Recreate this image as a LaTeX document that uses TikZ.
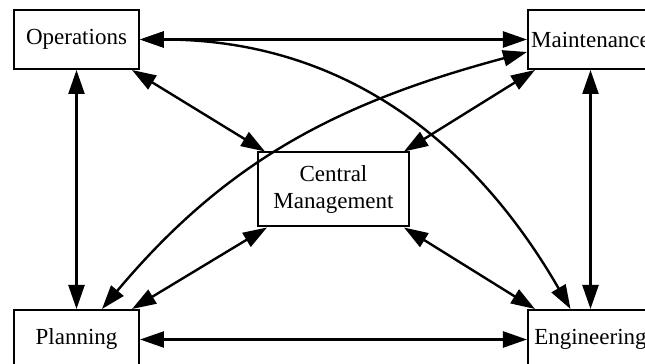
\documentclass[tikz,border=0pt]{standalone}
\usepackage{fontspec}
\setmainfont{Liberation Serif}
\usetikzlibrary{positioning, arrows.meta, calc}

\begin{document}
\begin{tikzpicture}[
        node distance=119.5pt and 193.5pt,
        unitbox/.style={rectangle, draw=black, line width=1pt, fill=white, minimum width=62.5pt, minimum height=29.5pt, align=center, inner sep=1pt, font=\fontsize{11.5}{13.5}\selectfont},
        centerbox/.style={unitbox, minimum width=75.5pt, minimum height=37pt},
        arr/.style={{Triangle[length=12pt, width=8pt]}-{Triangle[length=12pt, width=8pt]}, line width=1.2pt, black},
    ]
        % page frame (the picture is cut off at the right and at the bottom)
        \useasboundingbox (-38.25pt,19.75pt) rectangle (284.25pt,-162.25pt);
        \clip (-38.25pt,19.75pt) rectangle (284.25pt,-162.25pt);

        % Corner units
        \node[unitbox] (ops) {Operations};
        \node[unitbox, right=of ops] (maint) {Maintenance};
        \node[unitbox, below=of ops] (plan) {Planning};
        \node[unitbox, below=of maint] (eng) {Engineering};

        % Central unit (between the corners)
        \node[centerbox] (cm) at ($(ops)!0.5!(eng)$) {Central\\Management};

        % Sides of the frame
        \draw[arr] (ops.east) -- (maint.west);
        \draw[arr] (plan.east) -- (eng.west);
        \draw[arr] (ops.south) -- (plan.north);
        \draw[arr] (maint.south) -- (eng.north);

        % Links to the central unit
        \draw[arr] ([xshift=-4pt]ops.south east) -- ([xshift=4pt]cm.north west);
        \draw[arr] ([xshift=4pt]maint.south west) -- ([xshift=-3pt]cm.north east);
        \draw[arr] ([xshift=-4pt]plan.north east) -- ([xshift=5pt]cm.south west);
        \draw[arr] ([xshift=-3pt]cm.south east) -- ([xshift=4pt]eng.north west);

        % Diagonals
        \draw[arr] (ops.east) to[out=0, in=120] ([xshift=-10pt]eng.north);
        \draw[arr] ([xshift=12.75pt]plan.north) to[out=50, in=195] ([yshift=-6.25pt]maint.west);
\end{tikzpicture}
\end{document}
